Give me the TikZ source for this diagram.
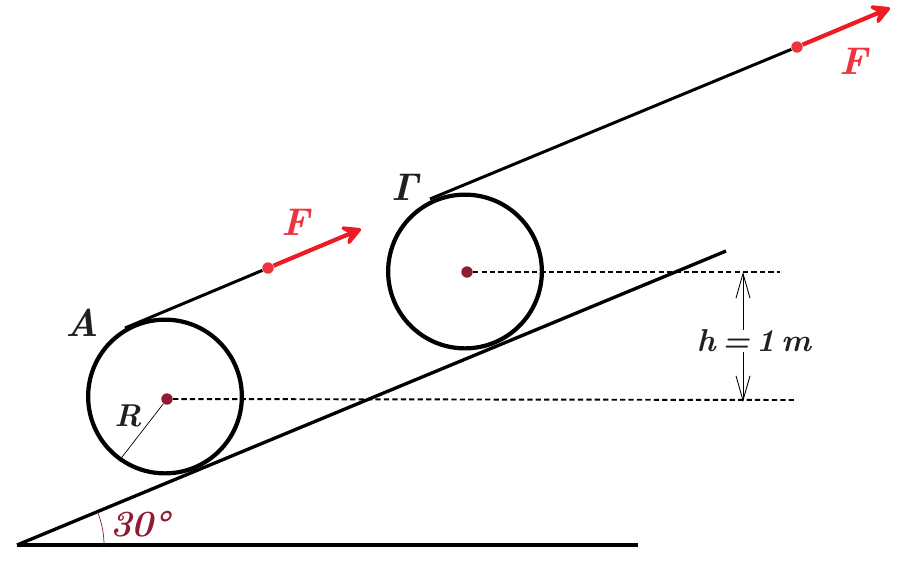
\documentclass[tikz,border=0pt]{standalone}
\usepackage{fontspec}
\usepackage{xcolor}
\usetikzlibrary{arrows.meta}
\definecolor{forcered}{RGB}{237, 28, 36}
\definecolor{labelred}{RGB}{239, 51, 64}
\definecolor{darkwine}{RGB}{142, 28, 52}
\definecolor{textgray}{RGB}{32, 32, 32}
\tikzset{
  wheel/.style={draw, circle, line width=2.4pt, minimum size=87.5pt, inner sep=0pt},
  centerdot/.style={circle, fill=darkwine, minimum size=6.5pt, inner sep=0pt},
  forcedot/.style={circle, fill=labelred, minimum size=6.5pt, inner sep=0pt},
  lbl/.style={font=\fontsize{22}{24}\selectfont\bfseries\itshape\addfontfeature{FakeBold=0.6}, text=textgray, inner sep=0pt},
  lblsmall/.style={font=\fontsize{18}{20}\selectfont\bfseries\itshape\addfontfeature{FakeBold=0.6}, text=textgray, inner sep=0pt},
  rope/.style={line width=1.7pt},
  pull/.style={line width=2.4pt, draw=forcered, -{Stealth[length=14pt, width=15pt, inset=6pt, round]}},
  level/.style={line width=1.1pt, dash pattern=on 3pt off 1.8pt},
  thinline/.style={line width=0.4pt}
}
\begin{document}
\begin{tikzpicture}[x=0.02cm, y=-0.02cm]
  \useasboundingbox (0,0) rectangle (919,576);
  % Incline and ground
  \coordinate (origin) at (17,545);
  \coordinate (rampend) at (726,251);
  \coordinate (groundend) at (638,545);
  \draw[line width=1.9pt] (origin) -- (rampend);
  \draw[line width=1.9pt] (origin) -- (groundend);
  \coordinate (arcstart) at (104,545);
  \draw[thinline, draw=darkwine] (arcstart) arc[start angle=0, end angle=-22.5, radius=87];

  % Wheels
  \node[wheel] (wheelA) at (165,396.5) {};
  \node[wheel] (wheelG) at (465,271.5) {};
  \node[centerdot] (centerA) at (167,399) {};
  \node[centerdot] (centerG) at (467,272) {};

  % Ropes and forces
  \coordinate (ropeA) at (125,328);
  \coordinate (ropeG) at (430,199);
  \node[forcedot] (dotA) at (268,268) {};
  \node[forcedot] (dotG) at (797,47) {};
  \coordinate (tipA) at (361,229);
  \coordinate (tipG) at (890,8);
  \draw[rope] (ropeA) -- (dotA);
  \draw[rope] (ropeG) -- (dotG);
  \draw[pull] (dotA) -- (tipA);
  \draw[pull] (dotG) -- (tipG);

  % Levels
  \coordinate (levelA) at (795,400);
  \coordinate (levelG) at (780,272);
  \draw[level] (centerA) -- (levelA);
  \draw[level] (centerG) -- (levelG);
  \coordinate (radiusend) at (119,461);
  \draw[thinline] (centerA) -- (radiusend);

  % Height
  \coordinate (htop) at (743,272);
  \coordinate (hbottom) at (743,402);
  \node[lblsmall, fill=white] (height) at (754,341) {\spaceskip=0.2em h = 1 m};
  \draw[line width=0.5pt, -{Straight Barb[length=14pt, width=8pt]}] (height.north -| htop) -- (htop);
  \draw[line width=0.5pt, -{Straight Barb[length=14pt, width=8pt]}] (height.south -| hbottom) -- (hbottom);

  % Labels
  \node[lbl] (labelA) at (82,323) {A};
  \node[lbl] (labelG) at (405,187) {Γ};
  \node[lblsmall] (labelR) at (128,416) {R};
  \node[lbl, text=labelred] (labelFa) at (296,222) {F};
  \node[lbl, text=labelred] (labelFg) at (854,61) {F};
  \node[lbl, text=darkwine, font=\fontsize{21}{24}\selectfont\bfseries\itshape\addfontfeature{FakeBold=0.6}] (angle) at (140,524) {30°};
\end{tikzpicture}
\end{document}
